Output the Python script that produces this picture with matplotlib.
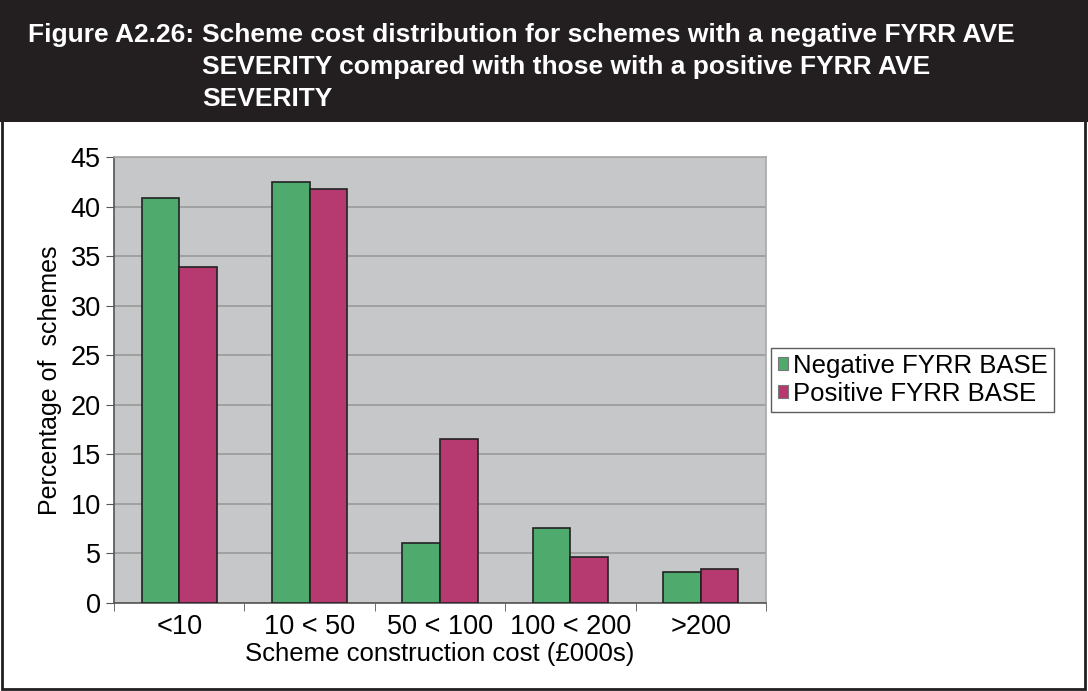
import numpy as np
import matplotlib.pyplot as plt
from matplotlib.patches import Rectangle

# donnees
categories = ["<10", "10 < 50", "50 < 100", "100 < 200", ">200"]
negatif = [40.9, 42.5, 6.1, 7.6, 3.1]
positif = [33.9, 41.8, 16.5, 4.6, 3.4]
series = ["Negative FYRR BASE", "Positive FYRR BASE"]

vert = "#4fab6d"
rose = "#b63a70"
fond = "#c6c7c9"

plt.rcParams['font.family'] = ['Liberation Sans', 'DejaVu Sans']

fig = plt.figure(figsize=(10.88, 6.91), dpi=100)

# bandeau noir du titre + cadre
fig.patches.append(Rectangle((0, 1 - 122/691), 1, 122/691, transform=fig.transFigure,
                             facecolor="#231f20", edgecolor="none", zorder=0))
fig.patches.append(Rectangle((2/1088, 2/691), 1083/1088, 687/691, transform=fig.transFigure,
                             facecolor="none", edgecolor="#231f20", lw=2, zorder=5))

titre_font = ['Liberation Sans Narrow', 'Liberation Sans', 'DejaVu Sans']
fig.text(28/1088, 1 - 35/691, "Figure A2.26:", color="white", fontsize=19,
         fontweight="bold", family=titre_font, va="center", ha="left")
corps = ["Scheme cost distribution for schemes with a negative FYRR AVE",
         "SEVERITY compared with those with a positive FYRR AVE",
         "SEVERITY"]
for i, ligne in enumerate(corps):
    fig.text(202/1088, 1 - (35 + 32*i)/691, ligne, color="white", fontsize=19,
             fontweight="bold", family=titre_font, va="center", ha="left")

ax = fig.add_axes([114/1088, 1 - 603/691, 652/1088, 446/691])
ax.set_facecolor(fond)

x = np.arange(len(categories))
w = 0.288
ax.bar(x - w/2, negatif, w, color=vert, edgecolor="#222222", lw=1.2, zorder=3,
       label=series[0])
ax.bar(x + w/2, positif, w, color=rose, edgecolor="#222222", lw=1.2, zorder=3,
       label=series[1])

ax.set_xlim(-0.5, len(categories) - 0.5)
ax.set_ylim(0, 45)
ax.set_yticks(np.arange(0, 46, 5))
ax.yaxis.grid(True, color="#9a9a9a", lw=1.2, zorder=1)

ax.set_xticks(x)
ax.set_xticklabels(categories)
ax.set_xticks(np.arange(-0.5, len(categories)), minor=True)
ax.tick_params(axis="x", which="major", length=0, labelsize=19.5, pad=8)
ax.tick_params(axis="x", which="minor", length=6, color="#555555", direction="out")
ax.tick_params(axis="y", labelsize=19.5, length=6, color="#555555", direction="out")

for s in ["left", "bottom"]:
    ax.spines[s].set_color("#555555")
    ax.spines[s].set_linewidth(1.2)
for s in ["top", "right"]:
    ax.spines[s].set_color("#a8a8a8")
    ax.spines[s].set_linewidth(1.2)

ax.set_xlabel("Scheme construction cost (£000s)", fontsize=18.5, labelpad=1)
ax.set_ylabel("Percentage of  schemes", fontsize=18, labelpad=6)

leg = ax.legend(loc="center left", bbox_to_anchor=(1.0, 0.5), frameon=True,
                fancybox=False, fontsize=18.5, handlelength=0.4, handleheight=0.4,
                handletextpad=0.2, borderpad=0.25, labelspacing=0.15,
                borderaxespad=0.2)
leg.get_frame().set_edgecolor("#333333")
leg.get_frame().set_linewidth(1.0)
for h in leg.legend_handles:
    h.set_edgecolor("#777777")
    h.set_linewidth(0.8)

fig.savefig("out.png", dpi=100)
